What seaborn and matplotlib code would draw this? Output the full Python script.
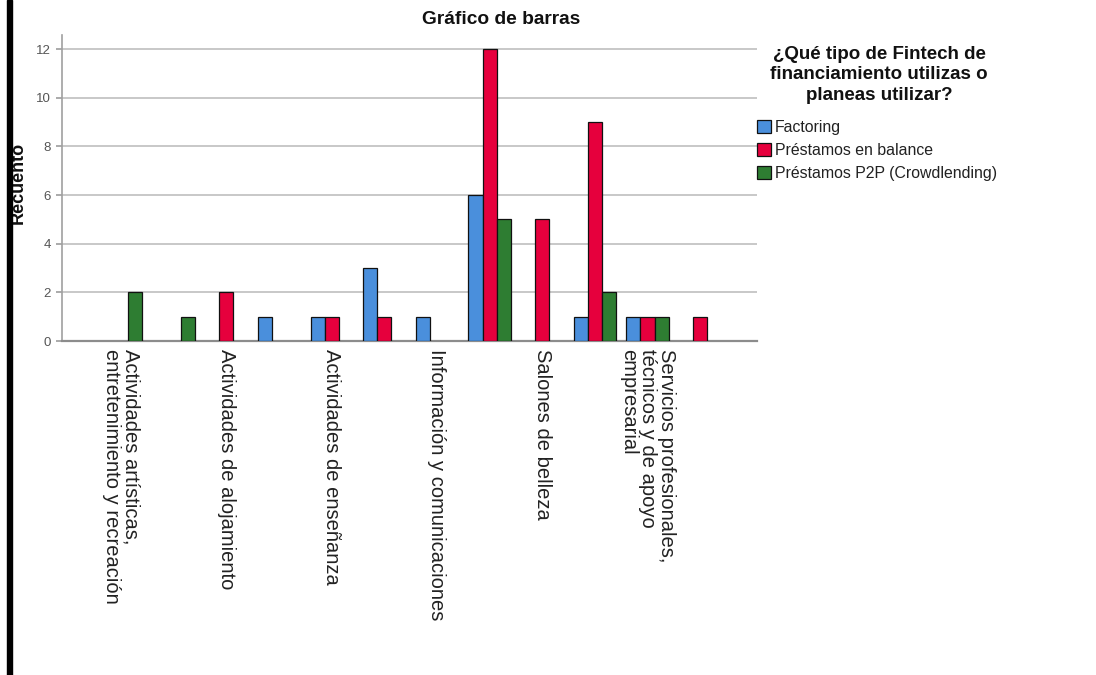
import matplotlib
matplotlib.use("Agg")
import matplotlib.pyplot as plt
from matplotlib.patches import Rectangle
import seaborn as sns
import pandas as pd

# ---- data ----
sectors = [
    "Actividades artísticas,\nentretenimiento y recreación",
    "Sector 2",
    "Actividades de alojamiento",
    "Sector 4",
    "Actividades de enseñanza",
    "Sector 6",
    "Información y comunicaciones",
    "Sector 8",
    "Salones de belleza",
    "Sector 10",
    "Servicios profesionales,\ntécnicos y de apoyo\nempresarial",
    "Sector 12",
]
# only every other category label is printed in the reference
tick_labels = [
    "Actividades artísticas,\nentretenimiento y recreación", "",
    "Actividades de alojamiento", "",
    "Actividades de enseñanza", "",
    "Información y comunicaciones", "",
    "Salones de belleza", "",
    "Servicios profesionales,\ntécnicos y de apoyo\nempresarial", "",
]
series = ["Factoring", "Préstamos en balance", "Préstamos P2P (Crowdlending)"]
factoring = [0, 0, 0, 1, 1, 3, 1, 6, 0, 1, 1, 0]
prestamos_balance = [0, 0, 2, 0, 1, 1, 0, 12, 5, 9, 1, 1]
prestamos_p2p = [2, 1, 0, 0, 0, 0, 0, 5, 0, 2, 1, 0]
colors = ["#4a8fdc", "#e6003d", "#2e7d32"]
legend_title = "¿Qué tipo de Fintech de\nfinanciamiento utilizas o\nplaneas utilizar?"

rows = []
for name, vals in zip(series, [factoring, prestamos_balance, prestamos_p2p]):
    for s, v in zip(sectors, vals):
        rows.append({"sector": s, "tipo": name, "count": v})
df = pd.DataFrame(rows)
df_plot = df[df["count"] > 0]

sns.set_theme(style="white")
plt.rcParams["font.family"] = ["Liberation Sans", "DejaVu Sans"]

W, H = 1096, 675
fig = plt.figure(figsize=(W / 100, H / 100), dpi=100)
ax = fig.add_axes([62 / W, 1 - 341 / H, 695 / W, 306 / H])

sns.barplot(data=df_plot, x="sector", y="count", hue="tipo", order=sectors,
            hue_order=series, palette=colors, width=0.8, dodge=True,
            edgecolor="#111111", linewidth=0.9, ax=ax, saturation=1, zorder=3)

ax.set_xlim(-1.121, 12.08)
ax.set_ylim(0, 12.58)
ax.set_yticks([0, 2, 4, 6, 8, 10, 12])
ax.yaxis.grid(True, color="#c4c4c4", linewidth=1.3, zorder=0)
ax.set_axisbelow(True)
for side in ["top", "right"]:
    ax.spines[side].set_visible(False)
ax.spines["left"].set_color("#a0a0a0")
ax.spines["left"].set_linewidth(1.2)
ax.spines["bottom"].set_color("#8c8c8c")
ax.spines["bottom"].set_linewidth(1.6)
ax.tick_params(axis="y", length=4, color="#a0a0a0", labelsize=9.5,
               labelcolor="#555555", pad=4, left=True)
ax.tick_params(axis="x", length=0, pad=6)
ax.set_xticks(range(len(sectors)))
ax.set_xticklabels(tick_labels, rotation=-90, ha="center", va="top",
                   multialignment="left", fontsize=14.5, color="#222222",
                   linespacing=1.0)
ax.set_xlabel("")
ax.set_ylabel("")

handles, labels = ax.get_legend_handles_labels()
if ax.get_legend() is not None:
    ax.get_legend().remove()
leg = fig.legend(handles, labels, loc="upper left",
                 bbox_to_anchor=(757 / W, 1 - 120 / H),
                 frameon=False, fontsize=11.4, handlelength=0.9, handleheight=0.9,
                 handletextpad=0.25, labelspacing=0.5, borderaxespad=0,
                 borderpad=0)
for t in leg.get_texts():
    t.set_color("#222222")

fig.text(879 / W, 1 - 46 / H, legend_title, ha="center", va="top",
         fontsize=13.5, fontweight="bold", color="#111111", linespacing=1.25)

fig.text(501 / W, 1 - 19 / H, "Gráfico de barras", ha="center", va="center",
         fontsize=13.8, fontweight="bold", color="#111111")
fig.text(18 / W, 1 - 183 / H, "Recuento", ha="center", va="center",
         rotation=90, fontsize=13, fontweight="bold", color="#111111")

# page border on the left of the scanned figure
fig.patches.append(Rectangle((7 / W, 0), 5 / W, 1, transform=fig.transFigure,
                             color="black", zorder=10))

fig.savefig("out.png", dpi=100)
